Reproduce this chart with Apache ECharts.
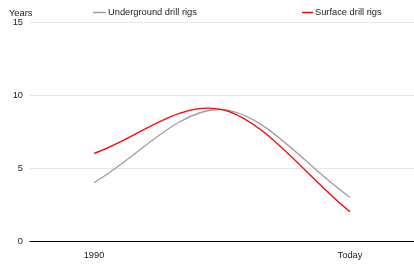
<!DOCTYPE html>
<html lang="en">
<head>
    <meta charset="UTF-8">
    <title>Drill rigs</title>
    <script src="https://cdn.jsdelivr.net/npm/echarts@6/dist/echarts.min.js"></script>
    <style>
        body { margin: 0; background: #fff; }
    </style>
</head>
<body>
<div id="main" style="width: 414px;height:266px;"></div>
<script>
    var categories = ['1990', '', 'Today'];
    var underground = [4, 9, 3];   // Underground drill rigs
    var surface = [6, 9, 2];       // Surface drill rigs
    var yTicks = [0, 5, 10, 15];

    // smooth curve through the points (cardinal spline, like the original "function" curve)
    function curveRenderer(values, color) {
        return function (params, api) {
            if (params.dataIndex !== 0) return;
            var pts = values.map(function (v, i) { return api.coord([i, v]); });
            var n = pts.length;
            var tan = pts.map(function (p, i) {
                var a = pts[Math.max(i - 1, 0)], b = pts[Math.min(i + 1, n - 1)];
                var k = (i === 0 || i === n - 1) ? 1 : 0.5;
                return [(b[0] - a[0]) * k, (b[1] - a[1]) * k];
            });
            var children = [];
            for (var i = 0; i < n - 1; i++) {
                children.push({
                    type: 'bezierCurve',
                    shape: {
                        x1: pts[i][0], y1: pts[i][1],
                        x2: pts[i + 1][0], y2: pts[i + 1][1],
                        cpx1: pts[i][0] + tan[i][0] / 3, cpy1: pts[i][1] + tan[i][1] / 3,
                        cpx2: pts[i + 1][0] - tan[i + 1][0] / 3, cpy2: pts[i + 1][1] - tan[i + 1][1] / 3
                    },
                    style: { stroke: color, lineWidth: 1.3, fill: null }
                });
            }
            return { type: 'group', children: children };
        };
    }

    function toData(values) {
        return values.map(function (v, i) { return [i, v]; });
    }

    var myChart = echarts.init(document.getElementById('main'));
    var font = 'Arial, "Liberation Sans", sans-serif';
    var fs = 9.3;
    var option = {
        animation: false,
        textStyle: { fontFamily: font },
        legend: [
            {
                left: 93, top: 8, padding: 0,
                icon: 'rect', itemWidth: 13, itemHeight: 1.5, itemGap: 0,
                textStyle: { fontSize: fs, color: '#222', padding: [0, 0, 0, -3] },
                data: ['Underground drill rigs']
            },
            {
                left: 302, top: 8, padding: 0,
                icon: 'rect', itemWidth: 11, itemHeight: 1.5, itemGap: 0,
                textStyle: { fontSize: fs, color: '#222', padding: [0, 0, 0, -3] },
                data: ['Surface drill rigs']
            }
        ],
        grid: { left: 30, right: 0, top: 22, bottom: 25 },
        xAxis: {
            type: 'category',
            data: categories,
            boundaryGap: true,
            axisLine: { lineStyle: { color: '#000', width: 1 } },
            axisTick: { show: false },
            axisLabel: { fontSize: fs, color: '#222', margin: 10 }
        },
        yAxis: {
            type: 'value',
            name: 'Years',
            nameLocation: 'end',
            nameGap: 4,
            nameTextStyle: { fontSize: fs, color: '#222', align: 'left', padding: [0, 0, 0, -21] },
            min: yTicks[0],
            max: yTicks[yTicks.length - 1],
            interval: 5,
            axisLine: { show: false },
            axisTick: { show: false },
            axisLabel: { fontSize: fs, color: '#222', margin: 7 },
            splitLine: { lineStyle: { color: '#e6e6e6', width: 1 } }
        },
        series: [
            {
                name: 'Underground drill rigs',
                type: 'custom',
                color: '#9e9e9e',
                itemStyle: { color: '#9e9e9e' },
                encode: { x: 0, y: 1 },
                renderItem: curveRenderer(underground, '#9e9e9e'),
                data: toData(underground)
            },
            {
                name: 'Surface drill rigs',
                type: 'custom',
                color: '#ff0000',
                itemStyle: { color: '#ff0000' },
                encode: { x: 0, y: 1 },
                renderItem: curveRenderer(surface, '#ff0000'),
                data: toData(surface)
            }
        ]
    };
    myChart.setOption(option);
</script>
</body>
</html>
